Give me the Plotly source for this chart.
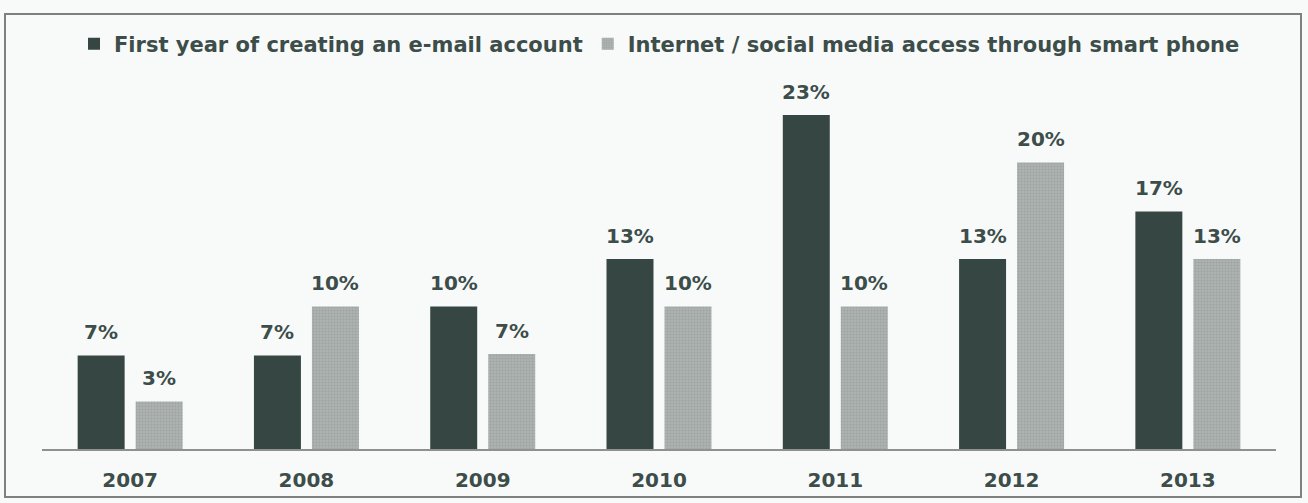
import plotly.graph_objects as go

years = ["2007", "2008", "2009", "2010", "2011", "2012", "2013"]
email_values = [6.5, 6.5, 9.9, 13.2, 23.2, 13.2, 16.5]
phone_values = [3.3, 9.9, 6.6, 9.9, 9.9, 19.9, 13.2]
email_labels = ["7%", "7%", "10%", "13%", "23%", "13%", "17%"]
phone_labels = ["3%", "10%", "7%", "10%", "10%", "20%", "13%"]
series_names = ["First year of creating an e-mail account",
                "Internet / social media access through smart phone"]

W, H = 1308, 503
L, R, T, B = 42, 32, 90, 54
TXT = "#3c4d4a"
FONT = "DejaVu Sans"

fig = go.Figure()
fig.add_trace(go.Bar(x=years, y=email_values, name=series_names[0],
                     marker=dict(color="#364643", line=dict(width=0))))
fig.add_trace(go.Bar(x=years, y=phone_values, name=series_names[1],
                     marker=dict(color="#a3a9a6", line=dict(width=0),
                                 pattern=dict(shape=".", fgcolor="#8d9390",
                                              bgcolor="#adb3b0", size=3,
                                              solidity=0.4))))

ann = []
for i, (v, lab) in enumerate(zip(email_values, email_labels)):
    ann.append(dict(x=i, y=v, xref="x", yref="y", text=lab, showarrow=False,
                    xshift=-29, yshift=9, yanchor="bottom",
                    font=dict(family=FONT, size=20, color=TXT, weight="bold")))
for i, (v, lab) in enumerate(zip(phone_values, phone_labels)):
    ann.append(dict(x=i, y=v, xref="x", yref="y", text=lab, showarrow=False,
                    xshift=29, yshift=9, yanchor="bottom",
                    font=dict(family=FONT, size=20, color=TXT, weight="bold")))

pw = W - L - R
ph = H - T - B
def px2x(p):
    return (p - L) / pw
def py2y(p):
    return (H - B - p) / ph

fig.update_layout(
    width=W, height=H,
    margin=dict(l=L, r=R, t=T, b=B),
    paper_bgcolor="#f8faf9", plot_bgcolor="rgba(0,0,0,0)",
    barmode="group", bargap=0.342, bargroupgap=0.19,
    font=dict(family=FONT, color=TXT),
    showlegend=True,
    legend=dict(orientation="h", xref="container", yref="container",
                x=74 / W, y=1 - 44 / H, xanchor="left", yanchor="middle",
                font=dict(family=FONT, size=21, color=TXT, weight="bold"),
                bgcolor="rgba(0,0,0,0)", traceorder="normal"),
    xaxis=dict(type="category", range=[-0.5, len(years) - 0.5],
               showline=True, linecolor="#8e918e", linewidth=1.5,
               showgrid=False, zeroline=False, ticks="",
               tickfont=dict(family=FONT, size=20, color=TXT, weight="bold"),
               ticklabelstandoff=12),
    yaxis=dict(range=[0, ph / 14.4], visible=False, showgrid=False, zeroline=False),
    annotations=ann,
    shapes=[dict(type="rect", xref="paper", yref="paper",
                 x0=px2x(5), x1=px2x(1301), y0=py2y(497), y1=py2y(14),
                 line=dict(color="#7d807d", width=2), fillcolor="rgba(0,0,0,0)",
                 layer="below")],
)

fig.write_html("out.html")
